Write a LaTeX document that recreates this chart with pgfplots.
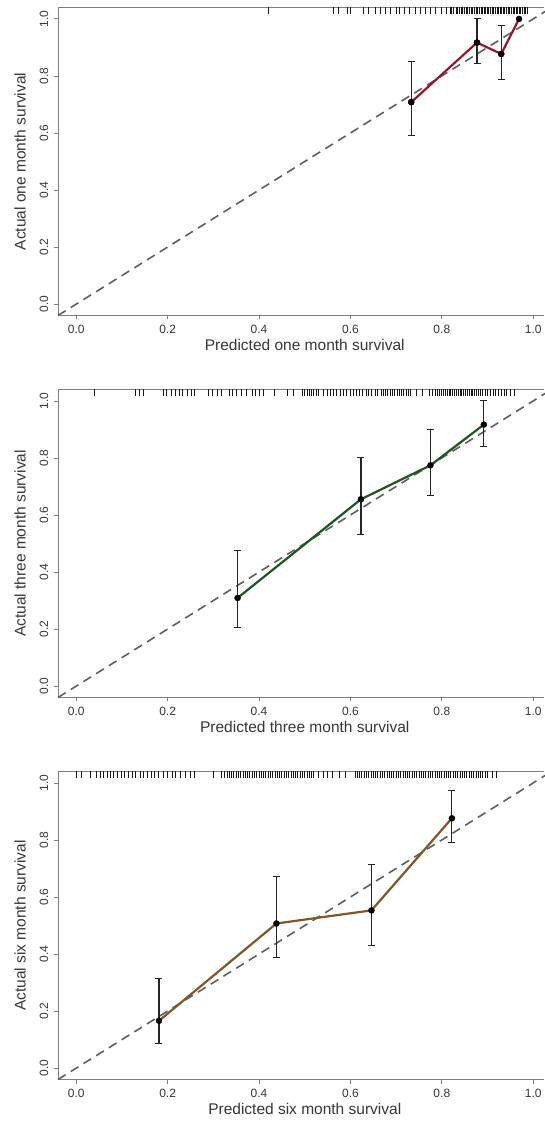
\documentclass[border=0pt]{standalone}
\usepackage{fontspec}
\setmainfont{Liberation Sans}
\usepackage{pgfplots}
\pgfplotsset{compat=1.18}
\usepackage{pgfplotstable}

\definecolor{boxgray}{RGB}{128,128,128}
\definecolor{diaggray}{RGB}{95,95,95}
\definecolor{txtgray}{RGB}{55,55,55}
\definecolor{oneline}{RGB}{150,24,40}
\definecolor{threeline}{RGB}{26,88,30}
\definecolor{sixline}{RGB}{130,86,40}

% calibration groups: predicted, observed, lower and upper CI
\pgfplotstableread{
x     y     lo    hi
0.733 0.708 0.592 0.850
0.877 0.917 0.845 1.000
0.930 0.877 0.787 0.978
0.969 1.000 1.000 1.000
}\onemonth
\pgfplotstableread{
x     y     lo    hi
0.353 0.309 0.204 0.477
0.623 0.655 0.532 0.800
0.775 0.774 0.669 0.900
0.892 0.917 0.841 1.000
}\threemonth
\pgfplotstableread{
x     y     lo    hi
0.181 0.166 0.087 0.314
0.438 0.507 0.388 0.672
0.646 0.553 0.429 0.714
0.822 0.876 0.792 0.974
}\sixmonth

% rug of individual predictions
\pgfplotstableread[row sep=\\]{
x\\
0.420\\ 0.562\\ 0.574\\ 0.593\\ 0.601\\ 0.628\\ 0.639\\ 0.654\\ 0.666\\ 0.677\\ 0.688\\ 0.700\\ 0.707\\ 0.719\\
0.730\\ 0.742\\ 0.753\\ 0.764\\ 0.776\\ 0.787\\ 0.799\\ 0.810\\ 0.818\\ 0.822\\ 0.826\\ 0.831\\ 0.835\\ 0.838\\
0.842\\ 0.846\\ 0.850\\ 0.853\\ 0.857\\ 0.861\\ 0.865\\ 0.868\\ 0.872\\ 0.875\\ 0.879\\ 0.882\\ 0.886\\ 0.889\\
0.893\\ 0.896\\ 0.900\\ 0.903\\ 0.907\\ 0.910\\ 0.914\\ 0.917\\ 0.921\\ 0.924\\ 0.928\\ 0.931\\ 0.935\\ 0.938\\
0.942\\ 0.945\\ 0.949\\ 0.952\\ 0.956\\ 0.959\\ 0.963\\ 0.966\\ 0.970\\ 0.973\\ 0.977\\ 0.980\\ 0.984\\ 0.988\\
}\onerug
\pgfplotstableread[row sep=\\]{
x\\
0.040\\ 0.130\\ 0.138\\ 0.147\\ 0.191\\ 0.198\\ 0.209\\ 0.217\\ 0.225\\ 0.232\\ 0.244\\ 0.252\\ 0.259\\ 0.290\\
0.298\\ 0.310\\ 0.318\\ 0.335\\ 0.342\\ 0.350\\ 0.362\\ 0.372\\ 0.385\\ 0.392\\ 0.400\\ 0.410\\ 0.434\\ 0.462\\
0.475\\ 0.495\\ 0.500\\ 0.505\\ 0.510\\ 0.515\\ 0.520\\ 0.525\\ 0.530\\ 0.542\\ 0.550\\ 0.556\\ 0.562\\ 0.570\\
0.578\\ 0.585\\ 0.592\\ 0.600\\ 0.607\\ 0.613\\ 0.620\\ 0.627\\ 0.634\\ 0.640\\ 0.647\\ 0.654\\ 0.660\\ 0.667\\
0.672\\ 0.677\\ 0.682\\ 0.687\\ 0.692\\ 0.697\\ 0.702\\ 0.707\\ 0.712\\ 0.717\\ 0.722\\ 0.727\\ 0.732\\ 0.745\\
0.758\\ 0.772\\ 0.780\\ 0.785\\ 0.790\\ 0.795\\ 0.800\\ 0.804\\ 0.808\\ 0.812\\ 0.816\\ 0.820\\ 0.824\\ 0.828\\
0.832\\ 0.836\\ 0.840\\ 0.844\\ 0.848\\ 0.852\\ 0.856\\ 0.860\\ 0.864\\ 0.868\\ 0.872\\ 0.876\\ 0.880\\ 0.885\\
0.890\\ 0.895\\ 0.900\\ 0.906\\ 0.912\\ 0.918\\ 0.924\\ 0.930\\ 0.936\\ 0.942\\ 0.950\\ 0.958\\
}\threerug
\pgfplotstableread[row sep=\\]{
x\\
0.000\\ 0.012\\ 0.030\\ 0.045\\ 0.052\\ 0.060\\ 0.068\\ 0.075\\ 0.082\\ 0.090\\ 0.098\\ 0.105\\ 0.115\\ 0.122\\
0.130\\ 0.140\\ 0.148\\ 0.155\\ 0.165\\ 0.172\\ 0.180\\ 0.190\\ 0.200\\ 0.210\\ 0.218\\ 0.228\\ 0.240\\ 0.250\\
0.258\\ 0.300\\ 0.318\\ 0.325\\ 0.330\\ 0.335\\ 0.340\\ 0.345\\ 0.350\\ 0.355\\ 0.360\\ 0.365\\ 0.370\\ 0.375\\
0.380\\ 0.385\\ 0.390\\ 0.395\\ 0.400\\ 0.405\\ 0.410\\ 0.415\\ 0.420\\ 0.425\\ 0.430\\ 0.435\\ 0.440\\ 0.445\\
0.450\\ 0.455\\ 0.460\\ 0.465\\ 0.470\\ 0.475\\ 0.480\\ 0.485\\ 0.490\\ 0.495\\ 0.500\\ 0.505\\ 0.510\\ 0.515\\
0.520\\ 0.530\\ 0.540\\ 0.550\\ 0.560\\ 0.575\\ 0.590\\ 0.610\\ 0.615\\ 0.620\\ 0.625\\ 0.630\\ 0.635\\ 0.640\\
0.645\\ 0.650\\ 0.655\\ 0.660\\ 0.665\\ 0.670\\ 0.675\\ 0.680\\ 0.685\\ 0.690\\ 0.695\\ 0.700\\ 0.705\\ 0.710\\
0.715\\ 0.720\\ 0.725\\ 0.730\\ 0.735\\ 0.740\\ 0.745\\ 0.750\\ 0.755\\ 0.760\\ 0.765\\ 0.770\\ 0.775\\ 0.780\\
0.785\\ 0.790\\ 0.795\\ 0.800\\ 0.805\\ 0.810\\ 0.815\\ 0.820\\ 0.825\\ 0.830\\ 0.835\\ 0.840\\ 0.845\\ 0.850\\
0.855\\ 0.860\\ 0.865\\ 0.870\\ 0.875\\ 0.880\\ 0.885\\ 0.890\\ 0.895\\ 0.900\\ 0.910\\ 0.920\\
}\sixrug

\pgfplotsset{
  calib/.style={
    scale only axis, width=486pt, height=308pt,
    xmin=-0.04, xmax=1.0236, ymin=-0.04, ymax=1.04,
    axis line style={draw=none},
    clip=false, clip mode=individual,
    xtick={0,0.2,0.4,0.6,0.8,1.0}, ytick={0,0.2,0.4,0.6,0.8,1.0},
    xtick pos=left, ytick pos=left,
    tick align=outside, major tick length=4pt,
    tick style={draw=boxgray, line width=0.8pt},
    /pgf/number format/.cd, fixed, fixed zerofill, precision=1, assume math mode=true,
    /pgfplots/.cd,
    ticklabel style={font=\fontsize{12}{12}\selectfont, text=txtgray},
    xticklabel style={anchor=center, yshift=-10pt},
    yticklabel style={anchor=center, xshift=-10pt, rotate=90},
    every axis x label/.style={at={(axis cs:0.5,-0.04)}, anchor=center, yshift=-29pt,
      font=\fontsize{15.5}{16}\selectfont, text=txtgray},
    every axis y label/.style={at={(axis cs:-0.04,0.5)}, xshift=-38pt, rotate=90, anchor=center,
      font=\fontsize{15.5}{16}\selectfont, text=txtgray},
  },
  diag/.style={diaggray, line width=1.6pt, dash pattern=on 9pt off 6pt},
  rug/.style={only marks, mark=|, mark size=3.2pt, mark options={line width=0.95pt, draw=black!90}},
  cis/.style={only marks, black, mark=*, mark size=3pt, mark options={fill=black},
    error bars/.cd, y dir=both, y explicit,
    error mark=|, error mark options={mark size=3.5pt, line width=1.1pt, black!85},
    error bar style={line width=1.1pt, black!85}},
  pts/.style={only marks, mark=*, mark size=3pt, mark options={draw=black, fill=black}},
}

\begin{document}
\begin{tikzpicture}
\useasboundingbox (0,0) rectangle (544pt,1122pt);

\begin{axis}[calib, at={(58pt,806.5pt)}, anchor=south west,
  xlabel={Predicted one month survival}, ylabel={Actual one month survival}]
\draw[boxgray, line width=0.9pt] (rel axis cs:1,1) -- (rel axis cs:0,1) -- (rel axis cs:0,0) -- (rel axis cs:1,0);
\addplot[diag] coordinates {(-0.04,-0.04) (1.1,1.1)};
\addplot[rug] table[x index=0, y index=0, y expr=1.029] {\onerug};
\addplot[oneline, line width=2.2pt] table[x=x, y=y] {\onemonth};
\addplot[cis] table[x=x, y=y, y error plus expr=\thisrow{hi}-\thisrow{y}, y error minus expr=\thisrow{y}-\thisrow{lo}, skip coords between index={3}{4}] {\onemonth};
\addplot[pts] table[x=x, y=y] {\onemonth};
\end{axis}

\begin{axis}[calib, at={(58pt,424.5pt)}, anchor=south west,
  xlabel={Predicted three month survival}, ylabel={Actual three month survival}]
\draw[boxgray, line width=0.9pt] (rel axis cs:1,1) -- (rel axis cs:0,1) -- (rel axis cs:0,0) -- (rel axis cs:1,0);
\addplot[diag] coordinates {(-0.04,-0.04) (1.1,1.1)};
\addplot[rug] table[x index=0, y index=0, y expr=1.029] {\threerug};
\addplot[threeline, line width=2.2pt] table[x=x, y=y] {\threemonth};
\addplot[cis] table[x=x, y=y, y error plus expr=\thisrow{hi}-\thisrow{y}, y error minus expr=\thisrow{y}-\thisrow{lo}] {\threemonth};
\end{axis}

\begin{axis}[calib, at={(58pt,42.5pt)}, anchor=south west,
  xlabel={Predicted six month survival}, ylabel={Actual six month survival}]
\draw[boxgray, line width=0.9pt] (rel axis cs:1,1) -- (rel axis cs:0,1) -- (rel axis cs:0,0) -- (rel axis cs:1,0);
\addplot[diag] coordinates {(-0.04,-0.04) (1.1,1.1)};
\addplot[rug] table[x index=0, y index=0, y expr=1.029] {\sixrug};
\addplot[sixline, line width=2.2pt] table[x=x, y=y] {\sixmonth};
\addplot[cis] table[x=x, y=y, y error plus expr=\thisrow{hi}-\thisrow{y}, y error minus expr=\thisrow{y}-\thisrow{lo}] {\sixmonth};
\end{axis}
\end{tikzpicture}
\end{document}
